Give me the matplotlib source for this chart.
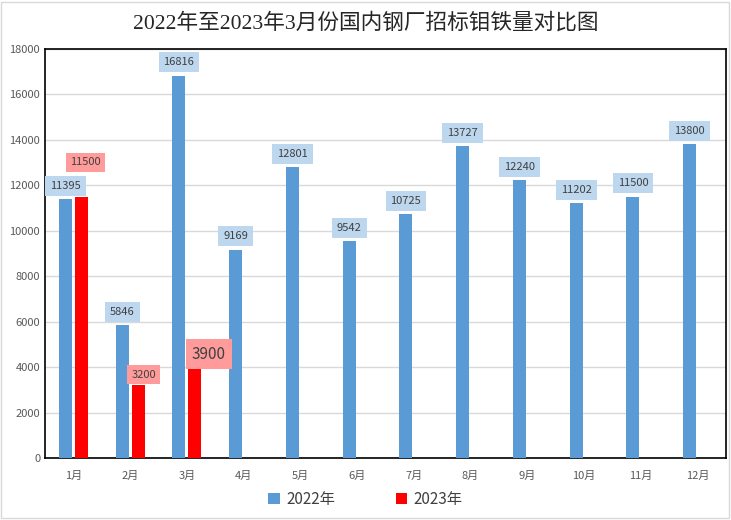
import matplotlib.pyplot as plt
from matplotlib.patches import Rectangle
import numpy as np

plt.rcParams['font.family'] = ['Noto Sans CJK SC', 'DejaVu Sans']

months = ['1月', '2月', '3月', '4月', '5月', '6月', '7月', '8月', '9月', '10月', '11月', '12月']
v2022 = [11395, 5846, 16816, 9169, 12801, 9542, 10725, 13727, 12240, 11202, 11500, 13800]
v2023 = [11500, 3200, 3900]
# label nudges for the 2023 labels (points)
off2023 = [(3, 21), (4, 4), (10, 5)]
size2023 = [8, 8, 11]

fig = plt.figure(figsize=(7.31, 5.2), dpi=100)
ax = fig.add_axes([0.0616, 0.119, 0.9315, 0.787])

x = np.arange(len(months))
w = 0.23
ax.bar(x - 0.14, v2022, width=w, color='#5b9bd5', label='2022年', zorder=3)
ax.bar(x[:len(v2023)] + 0.14, v2023, width=w, color='#ff0000', label='2023年', zorder=3)

for xi, v in zip(x, v2022):
    ax.annotate(str(v), (xi - 0.14, v), xytext=(0, 6), textcoords='offset points',
                ha='center', va='bottom', fontsize=8, color='#404040', zorder=5,
                bbox=dict(boxstyle='square,pad=0.45', fc='#bdd7ee', ec='none'))
for xi, v, o, s in zip(x, v2023, off2023, size2023):
    ax.annotate(str(v), (xi + 0.14, v), xytext=o, textcoords='offset points',
                ha='center', va='bottom', fontsize=s, color='#404040', zorder=5,
                bbox=dict(boxstyle='square,pad=0.4', fc='#ff9b9b', ec='none'))

ax.set_xlim(-0.5, 11.5)
ax.set_ylim(0, 18000)
ax.set_yticks(range(0, 18001, 2000))
ax.set_xticks(x)
ax.set_xticklabels(months)
ax.tick_params(axis='both', length=0, labelsize=8, colors='#595959')
ax.tick_params(axis='x', pad=9)
ax.grid(axis='y', color='#d9d9d9', linewidth=1, zorder=0)
for sp in ax.spines.values():
    sp.set_color('black')
    sp.set_linewidth(1.2)

fig.text(0.5, 0.955, '2022年至2023年3月份国内钢厂招标钼铁量对比图', ha='center', va='center',
         fontsize=15.6, color='#262626', family=['Liberation Serif', 'Noto Sans CJK SC'])

ax.legend(loc='center', bbox_to_anchor=(0.5, 0.04), bbox_transform=fig.transFigure,
          ncol=2, frameon=False, fontsize=11, handlelength=0.75, handleheight=0.75,
          columnspacing=4, handletextpad=0.4, labelcolor='#404040')

fig.patches.append(Rectangle((0.002, 0.003), 0.995, 0.993, transform=fig.transFigure,
                             fill=False, ec='#d9d9d9', lw=1))

fig.savefig('out.png', dpi=100)
